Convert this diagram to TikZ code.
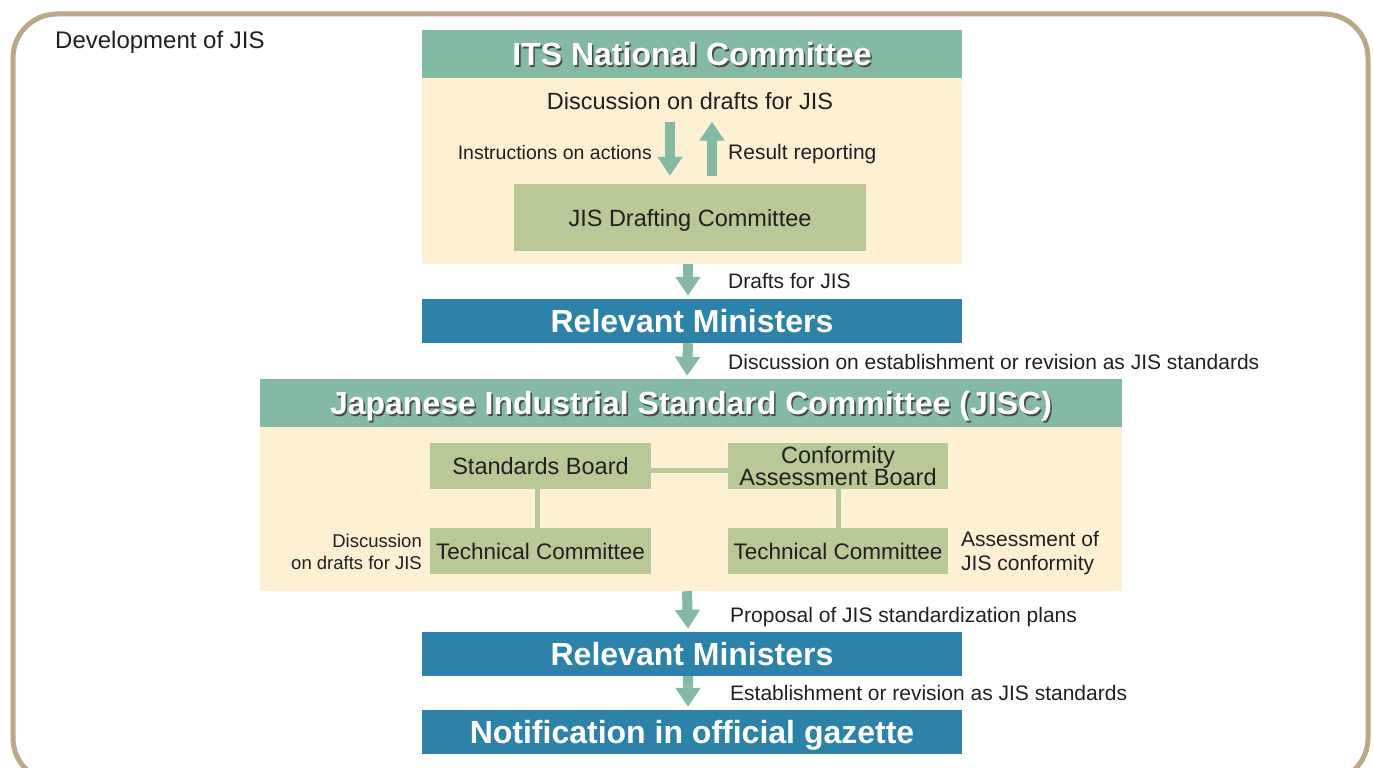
\documentclass[tikz,border=0pt]{standalone}
\usepackage{fontspec}
\setmainfont{Liberation Sans}
\usetikzlibrary{arrows.meta,positioning}
\definecolor{framebrown}{HTML}{BAA888}
\definecolor{headteal}{HTML}{84B9A4}
\definecolor{bodycream}{HTML}{FEF0D3}
\definecolor{boxolive}{HTML}{B8C896}
\definecolor{ministerblue}{HTML}{2C82A8}
\definecolor{inkdark}{HTML}{231F20}
\definecolor{shadowgray}{HTML}{4A4A4A}
% white title text with a small dark drop shadow
\newcommand{\shtext}[1]{\makebox[0pt][l]{\kern1.6pt\raisebox{-1.6pt}{\textcolor{shadowgray}{#1}}}\textcolor{white}{#1}}

\begin{document}
\begin{tikzpicture}[x=1pt,y=-1pt,
    capmid/.style={text height=#1, text depth=0pt},
    header/.style={fill=headteal, inner sep=0, minimum height=48, capmid=23pt, font=\fontsize{32}{34}\selectfont\bfseries},
    body/.style={fill=bodycream, inner sep=0},
    box/.style={fill=boxolive, text=inkdark, inner sep=0, align=center, font=\fontsize{23.5}{22}\selectfont},
    bluebox/.style={fill=ministerblue, text=white, inner sep=0, minimum width=540, minimum height=44, capmid=23pt, font=\fontsize{32}{34}\selectfont\bfseries},
    plain/.style={text=inkdark, inner sep=0, capmid=17pt, font=\fontsize{24}{26}\selectfont},
    lbl/.style={text=inkdark, inner sep=0, capmid=15pt, font=\fontsize{21}{24}\selectfont},
    note/.style={text=inkdark, inner sep=0, font=\fontsize{19}{22}\selectfont},
    bigarrow/.style={draw=headteal, line width=10pt, -{Triangle[width=24pt,length=19pt]}},
    link/.style={draw=boxolive, line width=5pt}]
  \useasboundingbox (0,0) rectangle (1373,768);
  \clip (0,0) rectangle (1373,768);
  \draw [framebrown, line width=5pt, rounded corners=44pt] (13,14) rectangle (1368,782);
  \node [plain, anchor=west] (devjis) at (55,40) {Development of JIS};

  % ITS National Committee
  \node [body, minimum width=540, minimum height=186] (itsbody) at (692,171) {};
  \node [header, minimum width=540] (its) at (692,54) {\shtext{ITS National Committee}};
  \node [plain, font=\fontsize{23.5}{26}\selectfont] (itsdisc) at (690,101) {Discussion on drafts for JIS};
  \node [box, capmid=17pt, minimum width=352, minimum height=67] (draft) at (690,217.5) {JIS Drafting Committee};
  \draw [bigarrow] ([xshift=-20,yshift=-12]itsdisc.south) -- ([xshift=-20,yshift=8]draft.north);
  \draw [bigarrow] ([xshift=22,yshift=8]draft.north) -- ([xshift=22,yshift=-12]itsdisc.south);
  \node [lbl, anchor=east, capmid=14pt, font=\fontsize{19.5}{24}\selectfont] (instr) at (652,152) {Instructions on actions};
  \node [lbl, anchor=west] (result) at (728,152) {Result reporting};

  \node [bluebox] (rmfirst) at (692,321) {Relevant Ministers};
  \draw [bigarrow] ([xshift=-4]itsbody.south) -- ([xshift=-4,yshift=3]rmfirst.north);
  \node [lbl, anchor=west] (drafts) at (728,281) {Drafts for JIS};

  % JISC
  \node [body, minimum width=862, minimum height=164] (jiscbody) at (691,509) {};
  \node [header, minimum width=862] (jisc) at (691,403) {\shtext{Japanese Industrial Standard Committee (JISC)}};
  \draw [bigarrow] ([xshift=-4]rmfirst.south) -- ([xshift=-4,yshift=3]jisc.north);
  \node [lbl, anchor=west] (revdisc) at (728,362) {Discussion on establishment or revision as JIS standards};

  \node [box, capmid=17pt, minimum width=221, minimum height=46] (sboard) at (540.5,466) {Standards Board};
  \node [box, minimum width=220, minimum height=46] (caboard) at (838,466) {Conformity\\Assessment Board};
  \node [box, capmid=16pt, minimum width=221, minimum height=46, font=\fontsize{22.5}{22}\selectfont] (tcleft) at (540.5,551) {Technical Committee};
  \node [box, capmid=16pt, minimum width=220, minimum height=46, font=\fontsize{22.5}{22}\selectfont] (tcright) at (838,551) {Technical Committee};
  \draw [link] ([yshift=-4]sboard.east) -- ([yshift=-4]caboard.west);
  \draw [link] ([xshift=-3]sboard.south) -- ([xshift=-3]tcleft.north);
  \draw [link] (caboard.south) -- (tcright.north);
  \node [note, anchor=east, align=right, font=\fontsize{18.5}{22}\selectfont] (tcnote) at (422,552) {Discussion\\on drafts for JIS};
  \node [note, anchor=west, align=left, font=\fontsize{21}{24}\selectfont] (cfnote) at (961,553) {Assessment of\\JIS conformity};

  % ministers and gazette
  \node [bluebox] (rmsecond) at (692,654) {Relevant Ministers};
  \draw [bigarrow] ([xshift=-4]jiscbody.south) -- ([xshift=-4,yshift=3]rmsecond.north);
  \node [lbl, anchor=west] (proposal) at (730,615) {Proposal of JIS standardization plans};
  \node [bluebox] (gazette) at (692,732) {Notification in official gazette};
  \draw [bigarrow] ([xshift=-4]rmsecond.south) -- ([xshift=-4,yshift=3]gazette.north);
  \node [lbl, anchor=west] (establish) at (730,693) {Establishment or revision as JIS standards};
\end{tikzpicture}
\end{document}
